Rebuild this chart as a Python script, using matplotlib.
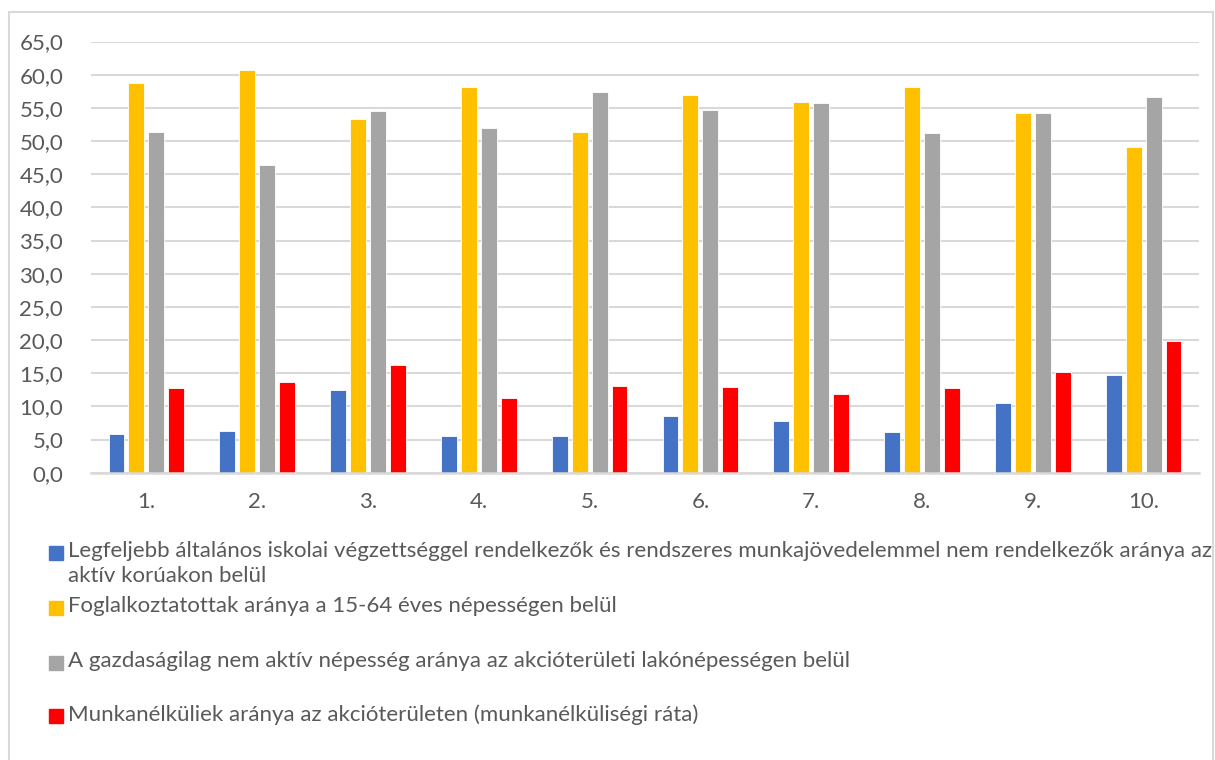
import numpy as np
import matplotlib
matplotlib.use('Agg')
import matplotlib.pyplot as plt
from matplotlib.patches import Rectangle

plt.rcParams['font.family'] = ['Lato', 'DejaVu Sans']

categories = ['1.', '2.', '3.', '4.', '5.', '6.', '7.', '8.', '9.', '10.']

alapfoku = [5.8, 6.3, 12.4, 5.6, 5.5, 8.6, 7.8, 6.2, 10.5, 14.8]
foglalkoztatott = [58.7, 60.7, 53.3, 58.1, 51.4, 57.0, 55.9, 58.1, 54.2, 49.1]
inaktiv = [51.3, 46.4, 54.5, 51.9, 57.4, 54.6, 55.7, 51.2, 54.2, 56.6]
munkanelkuli = [12.7, 13.6, 16.3, 11.2, 13.1, 12.9, 11.9, 12.8, 15.2, 19.8]

series_labels = [
    'Legfeljebb általános iskolai végzettséggel rendelkezők és rendszeres munkajövedelemmel nem rendelkezők aránya az\naktív korúakon belül',
    'Foglalkoztatottak aránya a 15-64 éves népességen belül',
    'A gazdaságilag nem aktív népesség aránya az akcióterületi lakónépességen belül',
    'Munkanélküliek aránya az akcióterületen (munkanélküliségi ráta)',
]
colors = ['#4472C4', '#FFC000', '#A5A5A5', '#FF0000']

W, H = 1215, 760
text_col = '#595959'
grid_col = '#D9D9D9'


def fx(px):
    return px / W


def fy(py):
    return 1 - py / H


fig = plt.figure(figsize=(W / 100, H / 100), dpi=100)
ax = fig.add_axes([fx(91), fy(472.7), fx(1199 - 91), (472.7 - 41.5) / H])

# chart frame
fig.patches.append(Rectangle((fx(9), fy(800)), fx(1213 - 9), (800 - 12) / H,
                             transform=fig.transFigure, fill=False,
                             edgecolor=grid_col, lw=1.5))

x = np.arange(len(categories))
step = 0.18
width = 0.144
for i, (vals, c) in enumerate(zip([alapfoku, foglalkoztatott, inaktiv, munkanelkuli], colors)):
    ax.bar(x + (i - 1.5) * step, vals, width, color=c, edgecolor='white',
           linewidth=0.6, zorder=3)

ax.set_xlim(-0.5, len(categories) - 0.5)
ax.set_ylim(0, 65)
yt = np.arange(0, 65.1, 5)
ax.set_yticks(yt)
ax.set_yticklabels([f'{v:.1f}'.replace('.', ',') for v in yt])
ax.set_xticks(x)
ax.set_xticklabels(categories)
ax.tick_params(axis='both', length=0, labelsize=16, colors=text_col)
ax.tick_params(axis='y', pad=20)
ax.tick_params(axis='x', pad=14)
ax.grid(axis='y', color=grid_col, lw=1.5, zorder=0)
for s in ['top', 'right', 'left']:
    ax.spines[s].set_visible(False)
ax.spines['bottom'].set_color(grid_col)
ax.spines['bottom'].set_linewidth(1.8)
ax.spines['bottom'].set_zorder(4)

# legend, laid out like the Excel one
legend_y = [553, 608, 663, 716]
for lab, c, yy in zip(series_labels, colors, legend_y):
    fig.patches.append(Rectangle((fx(49), fy(yy + 7)), fx(14), 14 / H,
                                 transform=fig.transFigure, color=c))
    fig.text(fx(68), fy(yy - 12), lab, fontsize=16, color=text_col,
             va='top', ha='left', linespacing=1.3)

fig.savefig('out.png', dpi=100)
